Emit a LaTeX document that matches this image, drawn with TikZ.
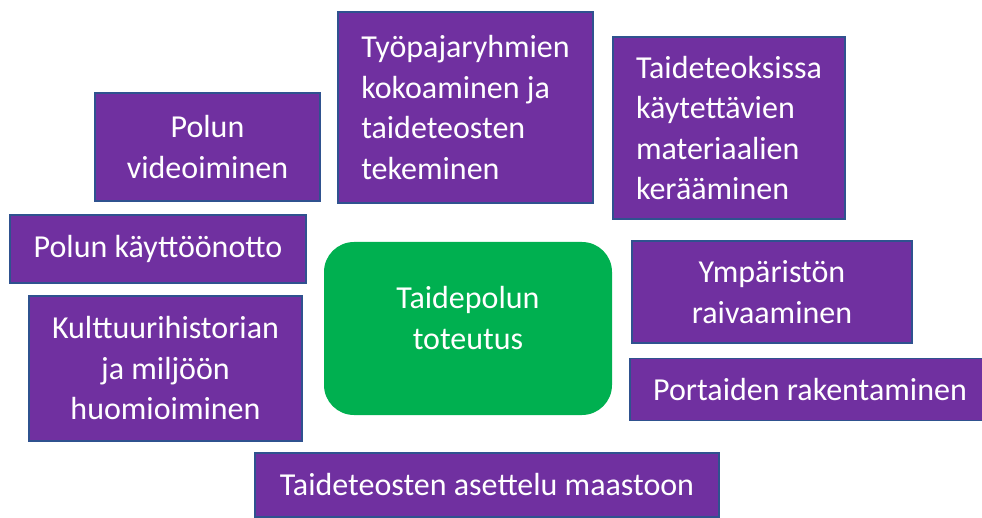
\documentclass[tikz,border=0pt]{standalone}
\usepackage{fontspec}
\setmainfont{Carlito}
\definecolor{boxpurple}{HTML}{7030A0}
\definecolor{boxedge}{HTML}{2F528F}
\definecolor{centergreen}{HTML}{00B050}
\begin{document}
\begin{tikzpicture}[x=1pt,y=-1pt,
  pbox/.style={draw=boxedge, line width=1.3pt, fill=boxpurple, text=white,
    font=\fontsize{32}{40.5}\selectfont, inner sep=0pt, outer sep=0pt},
  gbox/.style={fill=centergreen, rounded corners=30pt, inner sep=0pt, outer sep=0pt},
  gtext/.style={text=white, font=\fontsize{32}{40.5}\selectfont, align=center, inner sep=0pt}]
\useasboundingbox (0,0) rectangle (982,518);
\node[pbox, minimum width=255pt, minimum height=191pt, align=left] (tyo) at (465.5,107.5)
  {Työpajaryhmien\\kokoaminen ja\\taideteosten\\tekeminen};
\node[pbox, minimum width=232pt, minimum height=182pt, align=left] (mat) at (729,128)
  {Taideteoksissa\\käytettävien\\materiaalien\\kerääminen};
\node[pbox, minimum width=225pt, minimum height=108pt, align=center] (vid) at (207.5,147)
  {Polun\\videoiminen};
\node[pbox, minimum width=296pt, minimum height=68pt, align=center] (kay) at (158,249)
  {Polun käyttöönotto};
\node[pbox, minimum width=273pt, minimum height=145pt, align=center] (kul) at (165.5,368.5)
  {Kulttuurihistorian\\ja miljöön\\huomioiminen};
\node[gbox, minimum width=288pt, minimum height=173pt] (mid) at (468,328.5) {};
\node[gtext] (midlabel) at (468,318) {Taidepolun\\toteutus};
\node[pbox, minimum width=280pt, minimum height=102pt, align=center] (ymp) at (772,292)
  {Ympäristön\\raivaaminen};
\node[pbox, minimum width=360pt, minimum height=62pt, align=center] (por) at (810,389.5)
  {Portaiden rakentaminen};
\node[pbox, minimum width=464pt, minimum height=64pt, align=center] (ase) at (487,485)
  {Taideteosten asettelu maastoon};
\end{tikzpicture}
\end{document}
